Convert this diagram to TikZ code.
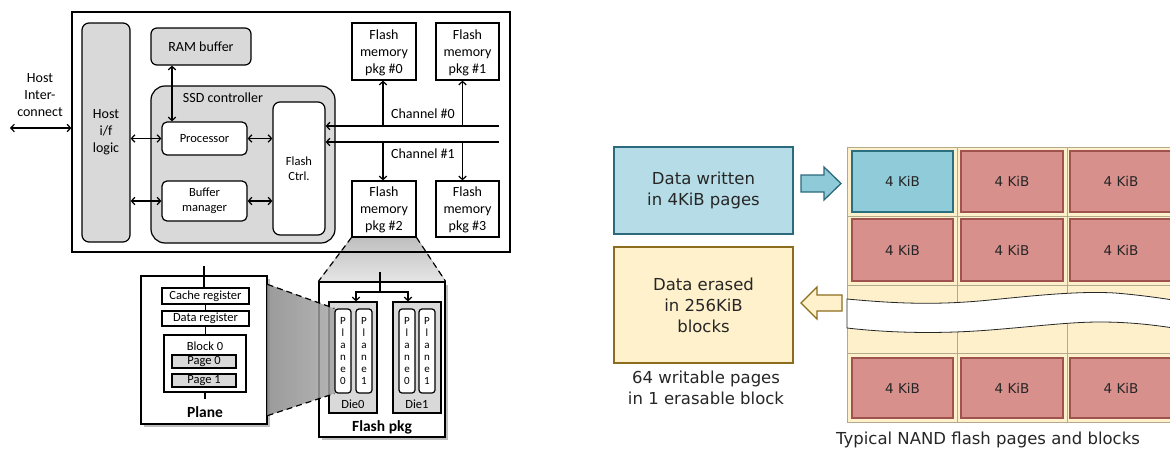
\documentclass[tikz,border=0pt]{standalone}
\usepackage{fontspec}
\setmainfont{DejaVu Sans}
\newfontfamily\calib{Carlito}
\usetikzlibrary{arrows.meta,shadows}
\pgfdeclarelayer{bg}
\pgfsetlayers{bg,main}
\definecolor{lgray}{HTML}{D9D9D9}
\definecolor{wfill}{HTML}{B6DDE7}
\definecolor{wdraw}{HTML}{2B6A7C}
\definecolor{afill}{HTML}{8ECAD8}
\definecolor{efill}{HTML}{FFF1CC}
\definecolor{edraw}{HTML}{8C6D1F}
\definecolor{gridbg}{HTML}{FDF0CB}
\definecolor{gridln}{HTML}{B3AA8E}
\definecolor{rfill}{HTML}{D8908D}
\definecolor{rdraw}{HTML}{A0524F}
\definecolor{bfill}{HTML}{8FCBD9}
\definecolor{bdraw}{HTML}{2B6E80}
\definecolor{txt}{HTML}{262626}
\begin{document}
\begin{tikzpicture}[x=1pt,y=-1pt,
  lf/.style={font=\calib\fontsize{14}{17}\selectfont},
  sf/.style={font=\calib\fontsize{12.5}{15.5}\selectfont},
  bf/.style={font=\calib\bfseries\fontsize{15.5}{18}\selectfont},
  box/.style={draw, line width=1.2pt, inner sep=0pt, align=center, fill=white, lf},
  gbox/.style={box, fill=lgray},
  lw/.style={line width=1.2pt},
  dbl/.style={line width=1.2pt, {Straight Barb[length=3.5pt,width=7.5pt]}-{Straight Barb[length=3.5pt,width=7.5pt]}},
  one/.style={line width=1.2pt, -{Straight Barb[length=3.5pt,width=7.5pt]}},
  dsh/.style={line width=1.2pt, dash pattern=on 6pt off 4pt},
  shd/.style={drop shadow={shadow xshift=2.5pt, shadow yshift=-2.5pt, opacity=0.25, fill=black}},
  pkg/.style={box, minimum width=64pt, minimum height=57pt, text depth=-6pt},
  pl/.style={box, rounded corners=3pt, minimum width=16pt, minimum height=84pt, font=\calib\fontsize{11}{12}\selectfont},
  cell/.style={draw=rdraw, fill=rfill, line width=1.2pt, minimum width=101pt, inner sep=0pt, font=\fontsize{13.5}{16}\selectfont, text=txt},
  bcell/.style={draw=bdraw, fill=bfill},
  rt/.style={text=txt, align=center, font=\fontsize{16.5}{21}\selectfont},
]
\useasboundingbox (0,0) rectangle (1170,450);

% ---------------- left: SSD ----------------
\node[box, fill=none, minimum width=438pt, minimum height=240pt] (outer) at (291,132) {};
\node[gbox, rounded corners=7pt, minimum width=48pt, minimum height=219pt] (hostif) at (106,132.5) {Host\\i/f\\logic};
\node[gbox, rounded corners=6pt, minimum width=100pt, minimum height=37pt] (ram) at (201,46.5) {RAM buffer};
\node[gbox, rounded corners=14pt, minimum width=184pt, minimum height=157pt] (ssd) at (243,164.5) {};
\node[lf, inner sep=0pt] (ssdl) at (223,98) {SSD controller};
\node[box, sf, rounded corners=5pt, minimum width=85pt, minimum height=33pt] (proc) at (204.5,138.5) {Processor};
\node[box, sf, rounded corners=5pt, minimum width=85pt, minimum height=40pt] (bufm) at (204.5,201) {Buffer\\manager};
\node[box, sf, rounded corners=7pt, minimum width=52pt, minimum height=133pt] (fctrl) at (299,168.5) {Flash\\Ctrl.};
\node[pkg] (pkg0) at (384,51.5) {Flash\\memory\\pkg \#0};
\node[pkg, minimum width=63pt] (pkg1) at (467.5,51.5) {Flash\\memory\\pkg \#1};
\node[pkg, minimum height=56pt] (pkg2) at (384,209) {Flash\\memory\\pkg \#2};
\node[pkg, minimum width=63pt, minimum height=56pt] (pkg3) at (467.5,209) {Flash\\memory\\pkg \#3};

\node[lf, align=center] (hil) at (40,95) {Host\\Inter-\\connect};
\coordinate (hiL) at (10,128);
\draw[dbl] (hiL) -- (hiL -| outer.west);
\draw[dbl] (proc.west -| hostif.east) -- (proc.west);
\draw[dbl] (bufm.west -| hostif.east) -- (bufm.west);
\draw[dbl] (proc.east) -- (proc.east -| fctrl.west);
\draw[dbl] (bufm.east) -- (bufm.east -| fctrl.west);
\coordinate (rp) at ([xshift=-32.5pt]proc.north);
\draw[dbl] (rp |- ram.south) -- (rp);

\coordinate (ch0) at (499,126);
\coordinate (ch1) at (499,142);
\draw[one] (ch0) -- (ch0 -| fctrl.east);
\draw[one] (ch1) -- (ch1 -| fctrl.east);
\coordinate (p0s) at ([xshift=-1pt]pkg0.south);
\coordinate (p1s) at ([xshift=-5pt]pkg1.south);
\coordinate (p2n) at ([xshift=-1pt]pkg2.north);
\coordinate (p3n) at ([xshift=-5pt]pkg3.north);
\draw[one] (ch0 -| p0s) -- (p0s);
\draw[one] (ch0 -| p1s) -- (p1s);
\draw[one] (ch1 -| p2n) -- (p2n);
\draw[one] (ch1 -| p3n) -- (p3n);
\node[lf] (ch0l) at (423,114) {Channel \#0};
\node[lf] (ch1l) at (423,154) {Channel \#1};

% ---------------- plane ----------------
\node[box, shd, minimum width=126pt, minimum height=148pt] (plane) at (204,350) {};
\node[box, sf, minimum width=87pt, minimum height=16pt] (cache) at (205.5,296) {Cache register};
\node[box, sf, minimum width=87pt, minimum height=15pt] (dreg) at (205.5,318.5) {Data register};
\node[box, minimum width=82pt, minimum height=57pt] (blk) at (205,363.5) {};
\node[sf] (blkl) at (205,346) {Block 0};
\node[gbox, sf, minimum width=64pt, minimum height=13pt] (pg0) at (204,361.5) {Page 0};
\node[gbox, sf, minimum width=64pt, minimum height=13pt] (pg1) at (204,380.5) {Page 1};
\node[bf] (planel) at (205,412) {Plane};
\coordinate (plT) at (204,266);
\draw[lw] (plT) -- (plT |- cache.north);
\draw[lw] (cache.south) -- (dreg.north);
\draw[lw] (dreg.south) -- (dreg.south |- blk.north);
\coordinate (blkB) at (205,399);
\draw[lw] (blk.south) -- (blkB);

% ---------------- flash pkg ----------------
\node[box, shd, minimum width=126pt, minimum height=155pt] (fpkg) at (382,359.5) {};
\node[gbox, minimum width=48pt, minimum height=111pt] (die0) at (353,357.5) {};
\node[gbox, minimum width=48pt, minimum height=111pt] (die1) at (417,357.5) {};
\node[sf] (d0l) at (353,404) {Die0};
\node[sf] (d1l) at (417,404) {Die1};
\coordinate (prjT) at (335,309);
\coordinate (prjB) at (335,393);
\fill[left color=gray!50, right color=gray!18, opacity=0.6] ([yshift=-9pt]plane.north east) -- (prjT) -- (prjB) -- ([yshift=9pt]plane.south east) -- cycle;
\node[pl] (p00) at (343,351) {P\\l\\a\\n\\e\\0};
\node[pl] (p01) at (364,351) {P\\l\\a\\n\\e\\1};
\node[pl] (p10) at (407,351) {P\\l\\a\\n\\e\\0};
\node[pl] (p11) at (427,351) {P\\l\\a\\n\\e\\1};
\draw[dsh] ([yshift=-9pt]plane.north east) -- (p00.north west);
\draw[dsh] ([yshift=9pt]plane.south east) -- (p00.south west);
\coordinate (ft) at (380,272);
\coordinate (fj) at (380,292);
\draw[lw] (ft) -- (fj);
\draw[one] (fj) -| ([xshift=3pt]die0.north);
\draw[one] (fj) -| ([xshift=-9pt]die1.north);
\node[bf] (fpl) at (382,427) {Flash pkg};

\begin{pgfonlayer}{bg}
\fill[top color=gray!50, bottom color=gray!20] (pkg2.south west) -- (pkg2.south east) -- (fpkg.north east) -- (fpkg.north west) -- cycle;
\end{pgfonlayer}
\draw[dsh] (pkg2.south west) -- (fpkg.north west);
\draw[dsh] (pkg2.south east) -- (fpkg.north east);

% ---------------- right: NAND ----------------
\node[draw=wdraw, fill=wfill, line width=1.5pt, minimum width=179pt, minimum height=87pt, rt] (wr) at (703.5,190.5) {Data written\\in 4KiB pages};
\node[draw=edraw, fill=efill, line width=1.5pt, minimum width=179pt, minimum height=116pt, rt] (er) at (703.5,305) {Data erased\\in 256KiB\\blocks};
\node[rt] (note) at (706,388) {64 writable pages\\in 1 erasable block};
\node[rt] (cap) at (988,440) {Typical NAND flash pages and blocks};

\draw[draw=wdraw, fill=afill, line width=1.3pt] (801,175) -- (824,175) -- (824,167) -- (841,183.5) -- (824,200) -- (824,192) -- (801,192) -- cycle;
\draw[draw=edraw, fill=efill, line width=1.3pt] (842,295) -- (817,295) -- (817,287) -- (801,303) -- (817,319) -- (817,311) -- (842,311) -- cycle;

\begin{scope}
\clip (844,140) rectangle (1170,430);
\draw[gridln, fill=gridbg, line width=0.8pt] (847,147) rectangle (1190,422);
\draw[gridln, line width=0.8pt] (957,147) -- (957,422) (1067,147) -- (1067,422)
  (847,216) -- (1190,216) (847,285) -- (1190,285) (847,353) -- (1190,353);
\filldraw[fill=white, draw=black!85, line width=0.8pt] (1180,301) .. controls (1160,298) and (1140,295) .. (1115,293)
  .. controls (1080,291) and (1040,295) .. (990,300) .. controls (940,305) and (900,304) .. (847,299)
  -- (847,328) .. controls (890,333) and (940,334) .. (990,330) .. controls (1040,326) and (1070,322) .. (1100,322)
  .. controls (1130,322) and (1155,325) .. (1180,329);
\node[cell, bcell, minimum height=61pt] (c11) at (902.5,181.5) {4 KiB};
\node[cell, minimum height=61pt, minimum width=102pt] (c12) at (1012,181.5) {4 KiB};
\node[cell, minimum height=61pt, minimum width=102pt] (c13) at (1121,181.5) {4 KiB};
\node[cell, minimum height=62pt] (c21) at (902.5,250) {4 KiB};
\node[cell, minimum height=62pt, minimum width=102pt] (c22) at (1012,250) {4 KiB};
\node[cell, minimum height=62pt, minimum width=102pt] (c23) at (1121,250) {4 KiB};
\node[cell, minimum height=60pt] (c41) at (902.5,388) {4 KiB};
\node[cell, minimum height=60pt, minimum width=102pt] (c42) at (1012,388) {4 KiB};
\node[cell, minimum height=60pt, minimum width=102pt] (c43) at (1121,388) {4 KiB};
\end{scope}
\end{tikzpicture}
\end{document}
